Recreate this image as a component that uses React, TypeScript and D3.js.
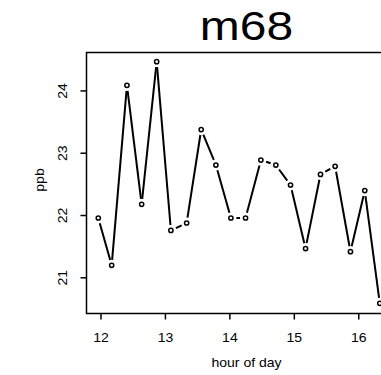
import React from "react";
import * as d3 from "d3";

const hours = [11.958, 12.166, 12.403, 12.631, 12.864, 13.085, 13.329, 13.555, 13.783, 14.016, 14.243, 14.481, 14.713, 14.941, 15.174, 15.406, 15.633, 15.871, 16.093, 16.326];
const ppb = [21.96, 21.2, 24.09, 22.18, 24.47, 21.76, 21.88, 23.38, 22.81, 21.96, 21.96, 22.89, 22.81, 22.49, 21.47, 22.66, 22.79, 21.42, 22.4, 20.59];
const xTicks = [12, 13, 14, 15, 16];
const yTicks = [21, 22, 23, 24];
const title = "m68";
const xLabel = "hour of day";
const yLabel = "ppb";

const W = 381, H = 375;
const left = 86.5, right = 391, top = 52.5, bottom = 313.5;
const SX = 1.17;

export default function App() {
  const x = d3.scaleLinear().domain([11.783, 16.5]).range([87, 391]);
  const y = d3.scaleLinear().domain([20.435, 24.625]).range([313, 52]);
  const pts = hours.map((h, i) => [x(h), y(ppb[i])] as [number, number]);
  const gap = 5.5;
  const segs: [number, number, number, number][] = [];
  for (let i = 0; i < pts.length - 1; i++) {
    const [x0, y0] = pts[i];
    const [x1, y1] = pts[i + 1];
    const d = Math.hypot(x1 - x0, y1 - y0);
    if (d <= 2 * gap) continue;
    const ux = (x1 - x0) / d, uy = (y1 - y0) / d;
    segs.push([x0 + ux * gap, y0 + uy * gap, x1 - ux * gap, y1 - uy * gap]);
  }
  const font = "'Liberation Sans', Arial, sans-serif";
  return (
    <svg width={W} height={H} style={{ position: "absolute", left: 0, top: 0, background: "#fff" }} fontFamily={font}>
      <rect x={0} y={0} width={W} height={H} fill="#fff" />
      <path d={`M${right},${top}H${left}V${bottom}H${right}`} fill="none" stroke="#000" strokeWidth={1.5} />
      {xTicks.map(t => (
        <g key={"x" + t}>
          <line x1={x(t)} x2={x(t)} y1={bottom} y2={bottom + 6} stroke="#000" strokeWidth={1.5} />
          <text transform={`translate(${x(t)},341.7) scale(${SX},1)`} textAnchor="middle" fontSize={12}>{t}</text>
        </g>
      ))}
      {yTicks.map(t => (
        <g key={"y" + t}>
          <line x1={left} x2={left - 6} y1={y(t)} y2={y(t)} stroke="#000" strokeWidth={1.5} />
          <text transform={`translate(66.7,${y(t)}) rotate(-90) scale(${SX},1)`} textAnchor="middle" fontSize={12}>{t}</text>
        </g>
      ))}
      <text transform={`translate(246.5,367.3) scale(${SX},1)`} textAnchor="middle" fontSize={12}>{xLabel}</text>
      <text transform={`translate(44.3,180) rotate(-90) scale(${SX},1)`} textAnchor="middle" fontSize={12}>{yLabel}</text>
      <text transform={`translate(246.5,39.5) scale(${SX},1)`} textAnchor="middle" fontSize={41}>{title}</text>
      <g>
        {segs.map((s, i) => (
          <line key={i} x1={s[0]} y1={s[1]} x2={s[2]} y2={s[3]} stroke="#000" strokeWidth={2} />
        ))}
        {pts.map((p, i) => (
          <circle key={i} cx={p[0]} cy={p[1]} r={2.1} fill="none" stroke="#000" strokeWidth={1.5} />
        ))}
      </g>
    </svg>
  );
}
